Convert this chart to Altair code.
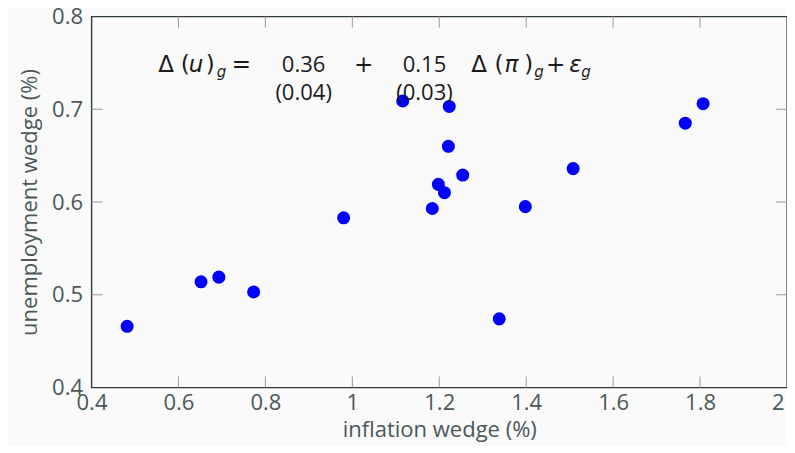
import altair as alt
import pandas as pd

# data
inflation_wedge = [0.482, 0.652, 0.693, 0.773, 0.980, 1.116, 1.223, 1.221, 1.198, 1.212,
                   1.184, 1.254, 1.398, 1.338, 1.508, 1.766, 1.807]
unemployment_wedge = [0.466, 0.514, 0.519, 0.503, 0.583, 0.709, 0.703, 0.660, 0.619, 0.610,
                      0.593, 0.629, 0.595, 0.474, 0.636, 0.685, 0.706]
x_ticks = [0.4, 0.6, 0.8, 1.0, 1.2, 1.4, 1.6, 1.8, 2.0]
y_ticks = [0.4, 0.5, 0.6, 0.7, 0.8]
x_inner_ticks = [0.6, 0.8, 1.0, 1.2, 1.4, 1.6, 1.8]
y_inner_ticks = [0.5, 0.6, 0.7]

W, H = 695.5, 371
FONT = "Open Sans"
LABEL_COLOR = "#4a5858"
TICK_COLOR = "#9a9a9a"
LSIZE = 22

df = pd.DataFrame({"x": inflation_wedge, "y": unemployment_wedge})
xt = pd.DataFrame({"t": x_inner_ticks})
yt = pd.DataFrame({"t": y_inner_ticks})

xscale = alt.Scale(domain=[0.4, 2.0], nice=False, zero=False)
yscale = alt.Scale(domain=[0.4, 0.8], nice=False, zero=False)

axis_style = dict(ticks=False, domain=False, grid=False, labelFlush=False,
                  labelFont=FONT, titleFont=FONT, labelFontSize=LSIZE,
                  labelColor=LABEL_COLOR, titleColor=LABEL_COLOR,
                  labelFontWeight="normal", titleFontWeight="normal")

points = alt.Chart(df).mark_circle(size=170, color="#0000ff", opacity=1).encode(
    x=alt.X("x:Q", scale=xscale,
            axis=alt.Axis(title="inflation wedge (%)", values=x_ticks,
                          labelExpr="format(datum.value, '.1~f')", titleFontSize=22,
                          labelAlign=alt.ExprRef("datum.value >= 2 ? 'right' : 'center'"),
                          labelOffset=alt.ExprRef("datum.value >= 2 ? -3 : 0"),
                          labelPadding=5, titlePadding=6, **axis_style)),
    y=alt.Y("y:Q", scale=yscale,
            axis=alt.Axis(title="unemployment wedge (%)", values=y_ticks,
                          labelExpr="format(datum.value, '.1f')", titleFontSize=22,
                          labelPadding=9, titlePadding=10, **axis_style)),
)

tick_b = alt.Chart(xt).mark_rule(color=TICK_COLOR, strokeWidth=1).encode(
    x=alt.X("t:Q", scale=xscale), y=alt.value(H), y2=alt.value(H - 11))
tick_t = alt.Chart(xt).mark_rule(color=TICK_COLOR, strokeWidth=1).encode(
    x=alt.X("t:Q", scale=xscale), y=alt.value(0), y2=alt.value(11))
tick_l = alt.Chart(yt).mark_rule(color=TICK_COLOR, strokeWidth=1).encode(
    y=alt.Y("t:Q", scale=yscale), x=alt.value(0), x2=alt.value(11))
tick_r = alt.Chart(yt).mark_rule(color=TICK_COLOR, strokeWidth=1).encode(
    y=alt.Y("t:Q", scale=yscale), x=alt.value(W), x2=alt.value(W - 11))

# regression formula annotation
MATH = "DejaVu Sans"
base = alt.Chart(pd.DataFrame({"a": [0]}))


def txt(s, x, y, size=23, align="left", style="normal", font=MATH):
    return base.mark_text(text=s, align=align, baseline="alphabetic", fontSize=size,
                          fontStyle=style, font=font, color="#1a1a1a").encode(
        x=alt.X("xx:Q", scale=xscale),
        y=alt.Y("yy:Q", scale=yscale),
    ).transform_calculate(xx=str(x), yy=str(y))


row1, sub, row2 = 0.7401, 0.7345, 0.7098
formula = [
    txt("Δ", 0.5535, row1),
    txt("(", 0.6056, row1),
    txt("u", 0.6240, row1, style="italic"),
    txt(")", 0.6630, row1),
    txt("g", 0.6883, sub, size=15, style="italic"),
    txt("=", 0.7446, row1, align="center"),
    txt("0.36", 0.888, row1, align="center", font=FONT, size=22),
    txt("+", 1.026, row1, align="center"),
    txt("0.15", 1.166, row1, align="center", font=FONT, size=22),
    txt("Δ", 1.2734, row1),
    txt("(", 1.3269, row1),
    txt("π", 1.3499, row1, style="italic"),
    txt(")", 1.3958, row1),
    txt("g", 1.4188, sub, size=15, style="italic"),
    txt("+", 1.468, row1, align="center"),
    txt("ε", 1.4992, row1, style="italic"),
    txt("g", 1.5268, sub, size=15, style="italic"),
    txt("(0.04)", 0.888, row2, align="center", font=FONT, size=22),
    txt("(0.03)", 1.166, row2, align="center", font=FONT, size=22),
]

chart = alt.layer(tick_b, tick_t, tick_l, tick_r, points, *formula).properties(
    width=W, height=H,
    autosize=alt.AutoSizeParams(type="none"),
    padding={"left": 83.5, "top": 8.5, "right": 0, "bottom": 58},
    background="#fafafa",
).configure_view(
    stroke="#2f3b3b", strokeWidth=1.4, fill="#fafafa"
)

chart.save("out.html", embed_options={"renderer": "svg", "actions": False})
